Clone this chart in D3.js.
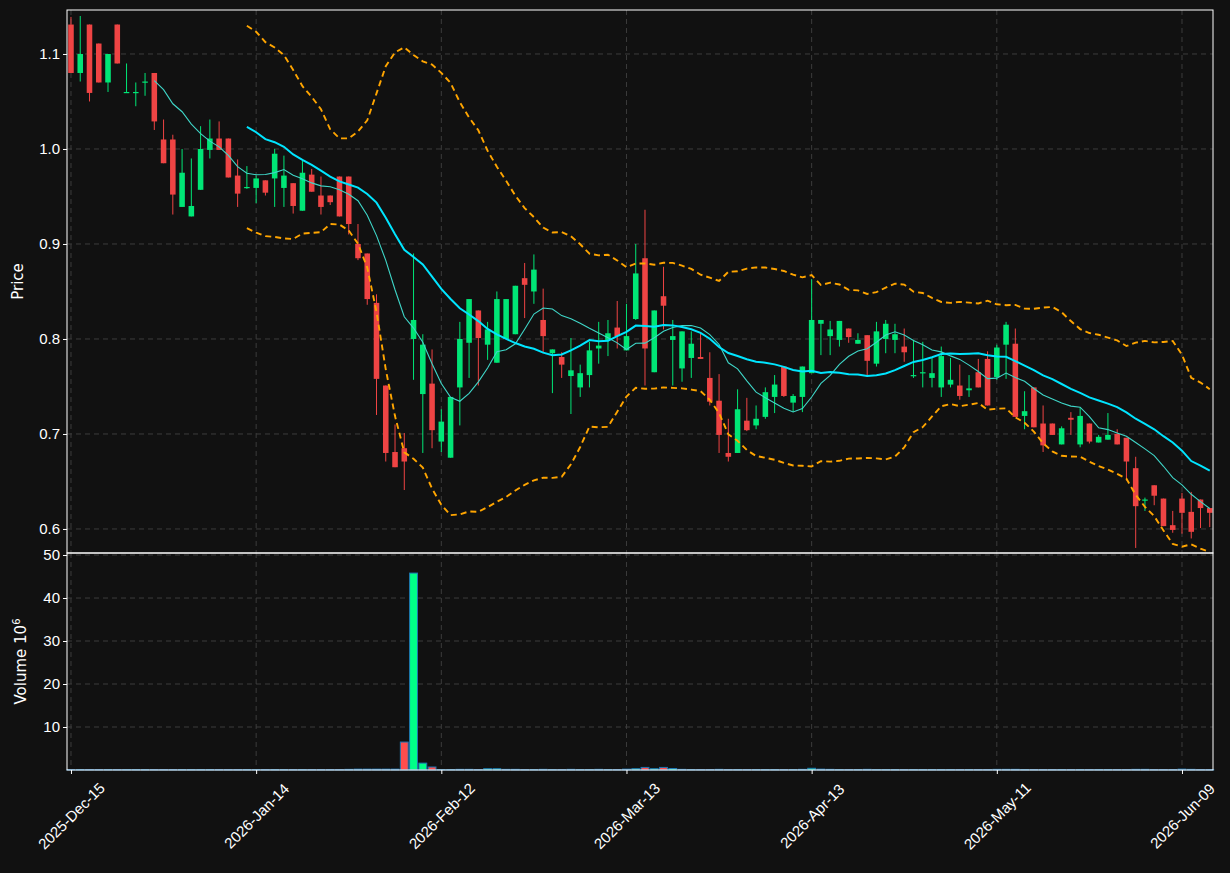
<!DOCTYPE html>
<html><head><meta charset="utf-8">
<script src="https://cdn.jsdelivr.net/npm/d3@7"></script>
<style>body{margin:0;background:#111111;}svg{display:block;font-family:"DejaVu Sans",sans-serif;}</style>
</head><body><svg id="c" width="1230" height="873"></svg>
<script>
const opens = [1.131,1.08,1.131,1.111,1.07,1.131,1.06,1.06,1.071,1.08,1.01,1.01,0.939,0.929,0.957,0.999,1.011,1.011,0.972,0.96,
0.959,0.967,0.969,0.959,0.964,0.935,0.973,0.951,0.951,0.971,0.971,0.9,0.89,0.838,0.751,0.681,0.685,0.8,0.742,0.753,
0.692,0.675,0.749,0.796,0.83,0.794,0.775,0.8,0.805,0.864,0.85,0.82,0.785,0.781,0.761,0.749,0.762,0.79,0.799,0.812,
0.788,0.821,0.885,0.765,0.845,0.799,0.769,0.78,0.781,0.759,0.735,0.68,0.68,0.714,0.709,0.718,0.739,0.771,0.733,0.739,
0.764,0.816,0.803,0.799,0.811,0.795,0.804,0.774,0.8,0.799,0.792,0.762,0.765,0.759,0.749,0.752,0.751,0.746,0.765,0.779,
0.76,0.794,0.795,0.719,0.749,0.711,0.711,0.689,0.717,0.689,0.711,0.691,0.694,0.7,0.696,0.664,0.631,0.646,0.632,0.604,
0.632,0.618,0.631,0.622];
const closes = [1.08,1.10,1.059,1.07,1.10,1.09,1.06,1.06,1.071,1.029,0.985,0.952,0.975,0.94,1.0,1.011,0.999,0.97,0.953,0.96,
0.969,0.954,0.995,0.972,0.94,0.975,0.955,0.939,0.944,0.929,0.921,0.885,0.842,0.758,0.68,0.665,0.671,0.82,0.794,0.704,
0.713,0.739,0.8,0.842,0.801,0.81,0.842,0.842,0.856,0.857,0.873,0.803,0.789,0.773,0.767,0.764,0.788,0.793,0.806,0.803,
0.803,0.869,0.79,0.83,0.835,0.803,0.808,0.795,0.779,0.734,0.699,0.676,0.726,0.704,0.716,0.744,0.752,0.74,0.74,0.771,
0.82,0.82,0.81,0.819,0.802,0.799,0.777,0.808,0.816,0.805,0.786,0.762,0.765,0.764,0.782,0.757,0.74,0.748,0.749,0.73,
0.791,0.815,0.718,0.724,0.707,0.688,0.699,0.706,0.715,0.719,0.692,0.697,0.699,0.689,0.671,0.624,0.631,0.635,0.603,0.599,
0.617,0.597,0.622,0.617];
const highs = [1.139,1.14,1.131,1.111,1.10,1.131,1.09,1.07,1.08,1.08,1.031,1.015,1.0,0.99,1.024,1.031,1.029,1.011,0.989,0.982,
0.972,0.967,1.0,0.993,0.964,0.988,0.979,0.971,0.951,0.971,0.971,0.921,0.89,0.847,0.751,0.71,0.701,0.89,0.805,0.789,
0.726,0.739,0.818,0.842,0.83,0.818,0.85,0.842,0.856,0.88,0.889,0.853,0.789,0.786,0.801,0.773,0.797,0.818,0.82,0.84,
0.837,0.9,0.936,0.83,0.876,0.82,0.808,0.808,0.806,0.786,0.763,0.716,0.747,0.738,0.73,0.749,0.762,0.771,0.742,0.771,
0.863,0.82,0.819,0.819,0.811,0.806,0.804,0.818,0.82,0.816,0.811,0.799,0.797,0.78,0.792,0.78,0.773,0.762,0.779,0.787,
0.794,0.818,0.811,0.745,0.749,0.73,0.711,0.708,0.723,0.728,0.711,0.699,0.722,0.705,0.696,0.676,0.633,0.646,0.632,0.619,
0.638,0.639,0.631,0.622];
const lows = [1.08,1.071,1.05,1.07,1.06,1.09,1.06,1.045,1.056,1.02,0.985,0.931,0.939,0.929,0.957,0.99,0.999,0.97,0.939,0.958,
0.943,0.951,0.939,0.939,0.932,0.935,0.955,0.931,0.941,0.929,0.91,0.883,0.836,0.72,0.671,0.665,0.641,0.757,0.68,0.685,
0.681,0.675,0.709,0.759,0.751,0.778,0.775,0.8,0.805,0.822,0.837,0.786,0.743,0.759,0.721,0.739,0.749,0.774,0.782,0.79,
0.788,0.82,0.751,0.765,0.81,0.751,0.755,0.759,0.779,0.73,0.68,0.671,0.68,0.703,0.705,0.716,0.722,0.739,0.723,0.723,
0.764,0.783,0.783,0.792,0.796,0.795,0.76,0.771,0.785,0.785,0.776,0.759,0.749,0.749,0.739,0.749,0.736,0.739,0.749,0.73,
0.757,0.758,0.718,0.705,0.707,0.681,0.699,0.689,0.699,0.686,0.69,0.691,0.694,0.689,0.651,0.58,0.619,0.625,0.603,0.596,
0.595,0.59,0.601,0.602];
const volumes = [0.1,0.1,0.1,0.1,0.1,0.1,0.1,0.1,0.1,0.1,0.1,0.1,0.1,0.1,0.1,0.1,0.1,0.1,0.1,0.1,
0.1,0.1,0.1,0.1,0.1,0.1,0.1,0.1,0.1,0.1,0.15,0.2,0.2,0.2,0.2,0.2,6.5,45.8,1.6,0.7,
0.1,0.1,0.15,0.15,0.1,0.3,0.3,0.15,0.15,0.1,0.1,0.15,0.1,0.1,0.15,0.1,0.1,0.15,0.1,0.1,
0.2,0.3,0.6,0.3,0.6,0.35,0.15,0.1,0.1,0.1,0.15,0.1,0.1,0.1,0.1,0.1,0.1,0.1,0.1,0.15,
0.4,0.2,0.15,0.1,0.1,0.1,0.15,0.1,0.1,0.1,0.1,0.1,0.1,0.1,0.1,0.1,0.1,0.1,0.1,0.1,
0.15,0.15,0.15,0.1,0.1,0.1,0.1,0.1,0.1,0.1,0.1,0.1,0.1,0.1,0.1,0.15,0.15,0.1,0.1,0.1,
0.2,0.15,0.1,0.1];
const tickIdx = [0,20,40,60,80,100,120];
const tickLabels = ["2025-Dec-15","2026-Jan-14","2026-Feb-12","2026-Mar-13","2026-Apr-13","2026-May-11","2026-Jun-09"];
const priceTicks = [0.6,0.7,0.8,0.9,1.0,1.1];
const volTicks = [10,20,30,40,50];

const svg = d3.select("#c");
const L=67,R=1213,T=10,PB=553,VB=770;
const x = d3.scaleLinear().domain([-0.43,123.35]).range([L,R]);
const y = d3.scaleLinear().domain([0.5747,1.1463]).range([PB,T]);
const yv = d3.scaleLinear().domain([0,50.47]).range([VB,PB]);
const n = closes.length, idx = d3.range(n);
const grid = "#3c3c3c";
const gAxis=(g)=>{g.selectAll(".domain").remove();g.selectAll("line").attr("stroke","#fff");g.selectAll("text").attr("fill","#fff").style("font-size","15px");};

[[T,PB],[PB,VB]].forEach(([a,b])=>{
  svg.append("g").selectAll("line").data(tickIdx).join("line")
    .attr("x1",d=>x(d)).attr("x2",d=>x(d)).attr("y1",a).attr("y2",b)
    .attr("stroke",grid).attr("stroke-dasharray","5,4");
});
svg.append("g").selectAll("line").data(priceTicks).join("line")
  .attr("x1",L).attr("x2",R).attr("y1",d=>y(d)).attr("y2",d=>y(d)).attr("stroke",grid).attr("stroke-dasharray","5,4");
svg.append("g").selectAll("line").data(volTicks).join("line")
  .attr("x1",L).attr("x2",R).attr("y1",d=>yv(d)).attr("y2",d=>yv(d)).attr("stroke",grid).attr("stroke-dasharray","5,4");

const up="#00e676", dn="#ef4444";
const bw = (x(1)-x(0))*0.6;
const cg = svg.append("g");
cg.selectAll("line").data(idx).join("line")
  .attr("x1",i=>x(i)).attr("x2",i=>x(i)).attr("y1",i=>y(highs[i])).attr("y2",i=>y(lows[i]))
  .attr("stroke",i=>closes[i]>=opens[i]?up:dn).attr("stroke-width",1);
cg.selectAll("rect").data(idx).join("rect")
  .attr("x",i=>x(i)-bw/2).attr("width",bw)
  .attr("y",i=>y(Math.max(opens[i],closes[i])))
  .attr("height",i=>Math.max(1.2,Math.abs(y(opens[i])-y(closes[i]))))
  .attr("fill",i=>closes[i]>=opens[i]?up:dn);

function sma(p){return idx.map(i=>i<p-1?null:d3.mean(closes.slice(i-p+1,i+1)));}
function sd(p){return idx.map(i=>i<p-1?null:d3.deviation(closes.slice(i-p+1,i+1))*Math.sqrt((p-1)/p));}
const ma10=sma(10), ma20=sma(20), s20=sd(20);
const upper=idx.map(i=>ma20[i]==null?null:ma20[i]+2*s20[i]);
const lower=idx.map(i=>ma20[i]==null?null:ma20[i]-2*s20[i]);
const line=d3.line().defined(d=>d.v!=null).x(d=>x(d.i)).y(d=>y(d.v));
const mk=a=>a.map((v,i)=>({i,v}));
svg.append("path").attr("d",line(mk(ma10))).attr("fill","none").attr("stroke","#3fd6c8").attr("stroke-width",1.1);
svg.append("path").attr("d",line(mk(ma20))).attr("fill","none").attr("stroke","#00e5ff").attr("stroke-width",2);
[upper,lower].forEach(a=>svg.append("path").attr("d",line(mk(a))).attr("fill","none").attr("stroke","#ffa500").attr("stroke-width",1.9).attr("stroke-dasharray","6,4"));

const vw = (x(1)-x(0))*0.85;
svg.append("g").selectAll("rect").data(idx).join("rect")
  .attr("x",i=>x(i)-vw/2).attr("width",vw).attr("y",i=>yv(volumes[i])).attr("height",i=>yv(0)-yv(volumes[i]))
  .attr("fill",i=>closes[i]>=opens[i]?"#00ff88":"#ff4d4d").attr("stroke","#1f77b4").attr("stroke-width",1);

svg.append("rect").attr("x",L).attr("y",T).attr("width",R-L).attr("height",PB-T).attr("fill","none").attr("stroke","#fff");
svg.append("rect").attr("x",L).attr("y",PB).attr("width",R-L).attr("height",VB-PB).attr("fill","none").attr("stroke","#fff");

svg.append("g").attr("transform",`translate(${L},0)`).call(d3.axisLeft(y).tickValues(priceTicks).tickFormat(d3.format(".1f")).tickSize(4)).call(gAxis);
svg.append("g").attr("transform",`translate(${L},0)`).call(d3.axisLeft(yv).tickValues(volTicks).tickSize(4)).call(gAxis);
const xa = svg.append("g").attr("transform",`translate(0,${VB})`).call(d3.axisBottom(x).tickValues(tickIdx).tickFormat((d,k)=>tickLabels[k]).tickSize(4)).call(gAxis);
xa.selectAll("text").attr("text-anchor","middle").attr("y",0).attr("dy","0.35em").attr("transform","translate(0,46) rotate(-45)");

svg.append("text").attr("transform",`translate(23,${(T+PB)/2}) rotate(-90)`).attr("text-anchor","middle").attr("fill","#fff").style("font-size","15px").text("Price");
const vl = svg.append("text").attr("transform",`translate(26,${(PB+VB)/2}) rotate(-90)`).attr("text-anchor","middle").attr("fill","#fff").style("font-size","15px");
vl.append("tspan").text("Volume  10");
vl.append("tspan").attr("dy","-6").style("font-size","10px").text("6");
</script></body></html>
